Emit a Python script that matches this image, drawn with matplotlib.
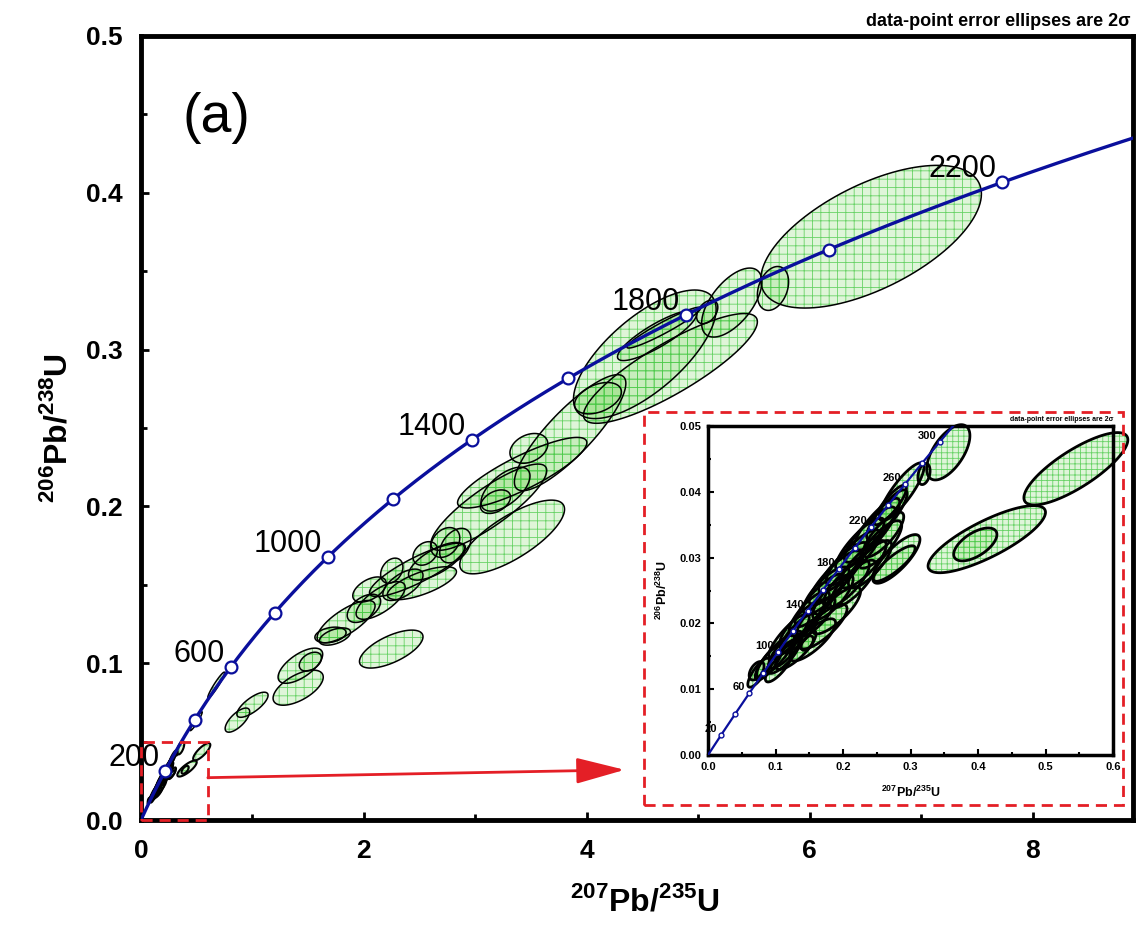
import numpy as np
import matplotlib
matplotlib.use("Agg")
import matplotlib.pyplot as plt
from matplotlib.patches import Polygon, Rectangle
from matplotlib.ticker import MultipleLocator, FormatStrFormatter

plt.rcParams['font.family'] = ['Liberation Sans', 'DejaVu Sans']
plt.rcParams['mathtext.fontset'] = 'custom'
plt.rcParams['mathtext.rm'] = 'Liberation Sans'
plt.rcParams['mathtext.bf'] = 'Liberation Sans:bold'
plt.rcParams['hatch.linewidth'] = 0.6

# U decay constants (per Ma)
L238 = 1.55125e-4
L235 = 9.8485e-4

# concordia age marks (Ma)
main_ages = [200, 400, 600, 800, 1000, 1200, 1400, 1600, 1800, 2000, 2200, 2400]
main_age_labels = [200, 600, 1000, 1400, 1800, 2200]
inset_ages = [20, 40, 60, 80, 100, 120, 140, 160, 180, 200, 220, 240, 260, 280, 300, 320]
inset_age_labels = [20, 60, 100, 140, 180, 220, 260, 300]

# zircon analyses: 207Pb/235U, 206Pb/238U, 2s half-widths, error correlation
r75 = [0.075, 0.090, 0.100, 0.105, 0.115, 0.120, 0.135, 0.140, 0.150, 0.160,
       0.165, 0.175, 0.185, 0.190, 0.200, 0.205, 0.215, 0.225, 0.230, 0.240,
       0.250, 0.255, 0.265, 0.270, 0.072, 0.147, 0.276, 0.279, 0.287, 0.320,
       0.356, 0.396, 0.413, 0.545,
       0.130, 0.155, 0.170, 0.190, 0.215, 0.240, 0.260, 0.112,
       0.495, 0.675, 0.865, 1.00, 1.41, 1.43, 1.52, 1.74, 2.245, 1.84,
       1.70, 2.05, 2.25, 2.55, 2.73, 2.48, 2.52, 2.82, 3.42, 3.12,
       3.33, 3.48, 3.27, 3.18, 3.85, 4.10, 4.52, 4.75, 4.63, 4.69,
       5.08, 5.30, 5.67, 6.55, 2.15, 2.35, 2.65, 2.00]
r68 = [0.0125, 0.0140, 0.0150, 0.0135, 0.0160, 0.0180, 0.0185, 0.0200, 0.0215, 0.0210,
       0.0235, 0.0250, 0.0240, 0.0270, 0.0285, 0.0260, 0.0300, 0.0320, 0.0290, 0.0335,
       0.0350, 0.0320, 0.0365, 0.0380, 0.0128, 0.0170, 0.0291, 0.0298, 0.0400, 0.0427,
       0.0460, 0.0320, 0.0328, 0.0435,
       0.0160, 0.0175, 0.0195, 0.0220, 0.0260, 0.0290, 0.0335, 0.0150,
       0.063, 0.086, 0.0637, 0.0735, 0.0844, 0.0984, 0.101, 0.117, 0.109, 0.1265,
       0.118, 0.147, 0.159, 0.170, 0.177, 0.1595, 0.151, 0.175, 0.2215, 0.1995,
       0.1805, 0.237, 0.211, 0.203, 0.247, 0.269, 0.297, 0.288, 0.309, 0.314,
       0.324, 0.330, 0.339, 0.372, 0.140, 0.150, 0.165, 0.135]
err75 = [0.016, 0.020, 0.028, 0.020, 0.025, 0.030, 0.028, 0.034, 0.030, 0.028,
         0.036, 0.034, 0.030, 0.040, 0.036, 0.034, 0.040, 0.036, 0.034, 0.038,
         0.034, 0.032, 0.030, 0.024, 0.011, 0.009, 0.031, 0.035, 0.033, 0.009,
         0.032, 0.032, 0.087, 0.077,
         0.030, 0.034, 0.036, 0.036, 0.034, 0.032, 0.030, 0.024,
         0.054, 0.076, 0.11, 0.14, 0.225, 0.20, 0.10, 0.14, 0.285, 0.26,
         0.14, 0.15, 0.10, 0.11, 0.13, 0.43, 0.31, 0.14, 0.58, 0.52,
         0.47, 0.17, 0.22, 0.135, 0.50, 0.21, 0.64, 0.78, 0.355, 0.33,
         0.095, 0.27, 0.14, 0.99, 0.22, 0.18, 0.25, 0.15]
err68 = [0.0022, 0.0026, 0.0032, 0.0024, 0.0028, 0.0034, 0.0030, 0.0036, 0.0034, 0.0030,
         0.0040, 0.0036, 0.0034, 0.0042, 0.0038, 0.0036, 0.0042, 0.0040, 0.0036, 0.0042,
         0.0040, 0.0036, 0.0038, 0.0030, 0.0014, 0.0011, 0.0027, 0.0037, 0.0044, 0.0016,
         0.0042, 0.0025, 0.0051, 0.0055,
         0.0030, 0.0032, 0.0034, 0.0036, 0.0036, 0.0036, 0.0034, 0.0026,
         0.006, 0.0083, 0.0077, 0.008, 0.0112, 0.0112, 0.006, 0.0055, 0.0121, 0.0135,
         0.005, 0.008, 0.008, 0.0075, 0.0095, 0.017, 0.0105, 0.011, 0.0225, 0.0275,
         0.0235, 0.0095, 0.014, 0.0075, 0.037, 0.010, 0.041, 0.035, 0.016, 0.013,
         0.0075, 0.022, 0.014, 0.0455, 0.012, 0.010, 0.012, 0.009]
rho = [0.8, 0.8, 0.85, 0.8, 0.8, 0.85, 0.8, 0.85, 0.8, 0.8,
       0.85, 0.8, 0.8, 0.85, 0.85, 0.8, 0.85, 0.85, 0.8, 0.85,
       0.85, 0.8, 0.85, 0.85, 0.5, 0.5, 0.85, 0.8, 0.85, 0.3,
       0.6, 0.6, 0.8, 0.8,
       0.8, 0.8, 0.8, 0.8, 0.8, 0.8, 0.8, 0.8,
       0.95, 0.95, 0.7, 0.75, 0.6, 0.65, 0.4, 0.5, 0.65, 0.75,
       0.3, 0.5, 0.3, 0.3, 0.3, 0.85, 0.7, 0.4, 0.85, 0.85,
       0.75, 0.3, 0.6, 0.4, 0.85, 0.4, 0.7, 0.85, 0.85, 0.95,
       0.4, 0.6, 0.3, 0.6, 0.7, 0.6, 0.7, 0.5]

RED = '#e41f26'
BLUE = '#0a0f9c'


def concordia(t):
    t = np.asarray(t, dtype=float)
    return np.exp(L235 * t) - 1, np.exp(L238 * t) - 1


def ellipse_xy(x, y, sx, sy, r):
    th = np.linspace(0, 2 * np.pi, 120)
    ex = x + sx * np.cos(th)
    ey = y + sy * (r * np.cos(th) + np.sqrt(1 - r * r) * np.sin(th))
    return np.column_stack([ex, ey])


def draw_ellipses(ax, idx, lw, hatch, clip=True):
    for i in idx:
        xy = ellipse_xy(r75[i], r68[i], err75[i], err68[i], rho[i])
        ax.add_patch(Polygon(xy, closed=True, facecolor=(0.55, 0.86, 0.45, 0.27),
                             edgecolor='none', zorder=2, clip_on=clip))
        ax.add_patch(Polygon(xy, closed=True, fill=False, edgecolor=(0.25, 0.78, 0.25, 0.75),
                             lw=0, hatch=hatch, zorder=2, clip_on=clip))
        ax.add_patch(Polygon(xy, closed=True, fill=False, edgecolor='black',
                             lw=lw, zorder=3, clip_on=clip))


fig = plt.figure(figsize=(11.37, 9.32), dpi=100)
ax = fig.add_axes([141 / 1137, 112 / 932, 992 / 1137, 784 / 932])

young = [i for i in range(len(r75)) if r75[i] < 0.6 and r68[i] < 0.05]
old = [i for i in range(len(r75)) if i not in young]
draw_ellipses(ax, young, 1.5, '++')
draw_ellipses(ax, old, 1.1, '++')

# concordia
t_curve = np.linspace(0, 2600, 600)
cx, cy = concordia(t_curve)
ax.plot(cx, cy, color=BLUE, lw=2.4, zorder=4)
mx, my = concordia(main_ages)
ax.plot(mx, my, 'o', ms=8.5, mfc='white', mec=BLUE, mew=1.6, zorder=5)
for a in main_age_labels:
    px, py = concordia(a)
    ax.annotate(str(a), (px, py), xytext=(-6, 13), textcoords='offset pixels',
                ha='right', va='center', fontsize=22, zorder=6)

ax.set_xlim(0, 8.9)
ax.set_ylim(0, 0.5)
ax.xaxis.set_major_locator(MultipleLocator(2))
ax.xaxis.set_minor_locator(MultipleLocator(1))
ax.yaxis.set_major_locator(MultipleLocator(0.1))
ax.yaxis.set_minor_locator(MultipleLocator(0.05))
ax.xaxis.set_major_formatter(FormatStrFormatter('%d'))
ax.yaxis.set_major_formatter(FormatStrFormatter('%.1f'))
ax.tick_params(which='both', direction='in', width=2, top=False, right=False)
ax.tick_params(which='major', length=6)
ax.tick_params(which='minor', length=4)
ax.tick_params(axis='x', pad=14)
ax.tick_params(axis='y', pad=13)
for lab in ax.get_xticklabels() + ax.get_yticklabels():
    lab.set_fontsize(19)
    lab.set_fontweight('bold')
for s in ax.spines.values():
    s.set_linewidth(3.5)

ax.set_xlabel(r'$^{\mathbf{207}}$Pb/$^{\mathbf{235}}$U', fontsize=23, fontweight='bold')
ax.set_ylabel(r'$^{\mathbf{206}}$Pb/$^{\mathbf{238}}$U', fontsize=23, fontweight='bold')
ax.xaxis.set_label_coords(0.508, -0.083)
ax.yaxis.set_label_coords(-0.068, 0.5)

ax.text(0.042, 0.895, '(a)', transform=ax.transAxes, fontsize=40, ha='left', va='center')
fig.text(1130 / 1137, 906 / 932, 'data-point error ellipses are 2\u03c3', ha='right',
         va='baseline', fontsize=13, fontweight='bold')

# red zoom box and arrow
ax.add_patch(Rectangle((0, 0), 0.6, 0.05, fill=False, edgecolor=RED, lw=2,
                       ls=(0, (4, 2.5)), zorder=7, clip_on=False))
ax.annotate('', xy=(4.34, 0.032), xytext=(0.6, 0.027),
            arrowprops=dict(arrowstyle='-|>,head_length=1.5,head_width=0.4',
                            color=RED, lw=2, mutation_scale=20, shrinkA=0, shrinkB=0))
fig.patches.append(Rectangle((644 / 1137, 127 / 932), 479 / 1137, 393 / 932,
                             transform=fig.transFigure, fill=False, edgecolor=RED,
                             lw=2, ls=(0, (4, 2.5)), zorder=7))

# inset
axin = fig.add_axes([708 / 1137, 177 / 932, 405 / 1137, 329 / 932])
draw_ellipses(axin, young, 2.0, '+++', clip=False)
axin.plot(cx, cy, color=BLUE, lw=1.6, zorder=4)
ix, iy = concordia(inset_ages)
axin.plot(ix, iy, 'o', ms=3.5, mfc='white', mec=BLUE, mew=1.0, zorder=5)
for a in inset_age_labels:
    px, py = concordia(a)
    axin.annotate(str(a), (px, py), xytext=(-4, 6), textcoords='offset pixels',
                  ha='right', va='center', fontsize=8, fontweight='bold', zorder=6)
axin.set_xlim(0, 0.6)
axin.set_ylim(0, 0.05)
axin.xaxis.set_major_locator(MultipleLocator(0.1))
axin.xaxis.set_minor_locator(MultipleLocator(0.05))
axin.yaxis.set_major_locator(MultipleLocator(0.01))
axin.yaxis.set_minor_locator(MultipleLocator(0.005))
axin.xaxis.set_major_formatter(FormatStrFormatter('%.1f'))
axin.yaxis.set_major_formatter(FormatStrFormatter('%.2f'))
axin.tick_params(which='both', direction='in', width=1.5, top=False, right=False,
                 labelsize=8, pad=5)
axin.tick_params(which='major', length=4)
axin.tick_params(which='minor', length=2.5)
for lab in axin.get_xticklabels() + axin.get_yticklabels():
    lab.set_fontweight('bold')
for s in axin.spines.values():
    s.set_linewidth(2.5)
axin.set_xlabel(r'$^{\mathbf{207}}$Pb/$^{\mathbf{235}}$U', fontsize=9, fontweight='bold')
axin.set_ylabel(r'$^{\mathbf{206}}$Pb/$^{\mathbf{238}}$U', fontsize=9, fontweight='bold')
axin.xaxis.set_label_coords(0.5, -0.09)
axin.yaxis.set_label_coords(-0.095, 0.5)
axin.text(1.0, 1.01, 'data-point error ellipses are 2\u03c3', transform=axin.transAxes,
          ha='right', va='bottom', fontsize=5, fontweight='bold')

fig.savefig('out.png', dpi=100)
